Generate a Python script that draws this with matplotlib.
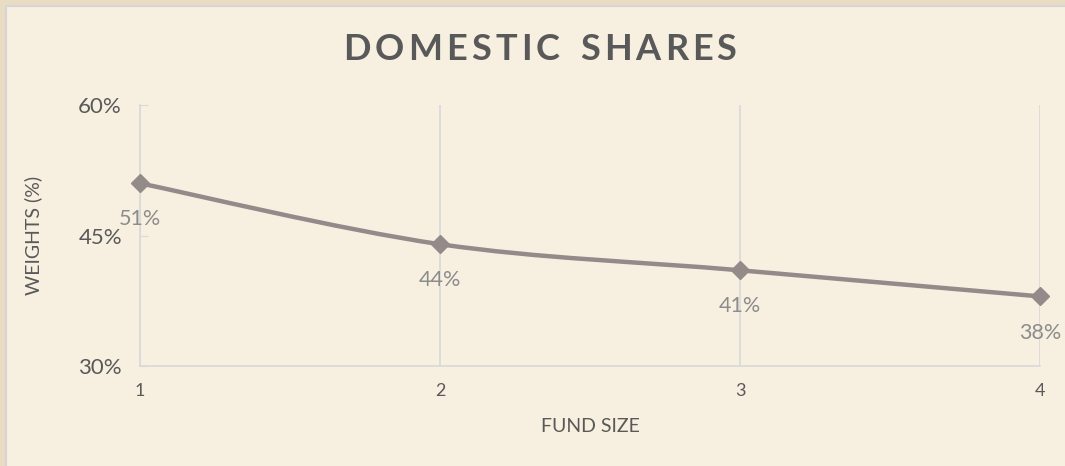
import numpy as np
import matplotlib
matplotlib.use("Agg")
import matplotlib.pyplot as plt
from matplotlib.path import Path
from matplotlib.patches import PathPatch, Rectangle
import matplotlib.ticker as ticker

# data
fund_size = [1, 2, 3, 4]
weights = [51, 44, 41, 38]
data_labels = ["51%", "44%", "41%", "38%"]
y_ticks = [30, 45, 60]
title = "DOMESTIC SHARES"

plt.rcParams['font.family'] = ['Lato', 'DejaVu Sans']

W, H = 1065, 466
fig = plt.figure(figsize=(W / 100, H / 100), dpi=100)
fig.patch.set_facecolor('#EADCC2')

# inner cream panel with thin gray edge
fig.patches.append(Rectangle((6 / W, -0.05), 1.1, 1 - 6 / H + 0.05, transform=fig.transFigure,
                             facecolor='#F7F0E0', edgecolor='#D6D6D6', linewidth=1.5, zorder=-5))

ax = fig.add_axes([140 / W, 1 - 366 / H, 900 / W, 261 / H])
ax.set_facecolor('none')
ax.set_xlim(1, 4)
ax.set_ylim(30, 60)

grid_c = '#D9D9D9'
for s in ['top', 'right']:
    ax.spines[s].set_visible(False)
for s in ['left', 'bottom']:
    ax.spines[s].set_color(grid_c)
    ax.spines[s].set_linewidth(1.2)
ax.set_xticks(fund_size)
ax.xaxis.grid(True, color=grid_c, linewidth=1.2)
ax.set_axisbelow(True)
ax.set_yticks(y_ticks)
ax.yaxis.set_major_formatter(ticker.FuncFormatter(lambda v, p: f"{v:.0f}%"))
ax.tick_params(axis='x', length=0, pad=12, labelsize=13, labelcolor='#595959')
ax.tick_params(axis='y', direction='in', length=6, color=grid_c, pad=13, labelsize=16,
               labelcolor='#595959')

# smoothed line (Catmull-Rom -> cubic bezier), like the spreadsheet's smooth line
xs = np.array(fund_size, dtype=float)
ys = np.array(weights, dtype=float)
px = np.concatenate([[xs[0]], xs, [xs[-1]]])
py = np.concatenate([[ys[0]], ys, [ys[-1]]])
verts = [(xs[0], ys[0])]
codes = [Path.MOVETO]
t = 1 / 6
for i in range(1, len(xs)):
    c1 = (px[i] + (px[i + 1] - px[i - 1]) * t, py[i] + (py[i + 1] - py[i - 1]) * t)
    c2 = (px[i + 1] - (px[i + 2] - px[i]) * t, py[i + 1] - (py[i + 2] - py[i]) * t)
    verts += [c1, c2, (px[i + 1], py[i + 1])]
    codes += [Path.CURVE4] * 3
line_c = '#938A8A'
ax.add_patch(PathPatch(Path(verts, codes), facecolor='none', edgecolor=line_c, linewidth=3.2,
                       capstyle='round', zorder=3, clip_on=False))
ax.plot(fund_size, weights, linestyle='none', marker='D', markersize=9, color=line_c,
        zorder=4, clip_on=False)

for x, y, lab in zip(fund_size, weights, data_labels):
    ax.annotate(lab, (x, y), xytext=(0, -26), textcoords='offset points', ha='center',
                va='center', fontsize=15.5, color='#8C8C8C')

ax.set_xlabel("FUND SIZE", fontsize=14, color='#595959', labelpad=14)
ax.set_ylabel("WEIGHTS (%)", fontsize=14, color='#595959')
ax.yaxis.set_label_coords(-98 / 900, 0.5)

# spaced-out bold title, drawn letter by letter
fig.canvas.draw()
r = fig.canvas.get_renderer()
fs = 26
track = 4
widths = []
for ch in title:
    tt = fig.text(0, 0, ch if ch != ' ' else 'I', fontsize=fs, fontweight='bold')
    bb = tt.get_window_extent(renderer=r)
    widths.append(bb.width if ch != ' ' else bb.width * 1.2)
    tt.remove()
total = sum(widths) + track * (len(title) - 1)
x0 = 540 - total / 2
for ch, w in zip(title, widths):
    if ch != ' ':
        fig.text(x0 / W, 1 - 49 / H, ch, fontsize=fs, fontweight='bold', color='#595959',
                 ha='left', va='center')
    x0 += w + track

fig.savefig("out.png", dpi=100, facecolor=fig.get_facecolor())
